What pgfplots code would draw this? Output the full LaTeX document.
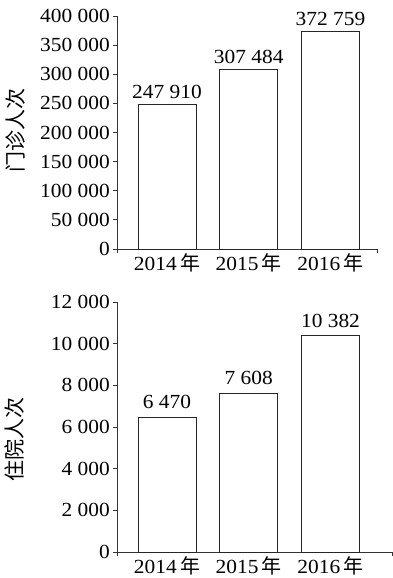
\documentclass[border=0pt]{standalone}
\usepackage{pgfplots}
\pgfplotsset{compat=1.18}
\usepackage{fontspec}
\setmainfont[FakeStretch=1.07]{Liberation Serif}
\newfontfamily\cjk{Noto Sans CJK SC}
\pgfplotsset{
  mystyle/.style={
    scale only axis,
    anchor=south west,
    axis x line*=bottom,
    axis y line*=left,
    x axis line style={-, line width=0.8pt, black!80},
    y axis line style={-, line width=0.8pt, black!80},
    every tick/.style={line width=0.8pt, black!80},
    tick align=outside,
    major tick length=4pt,
    ytick pos=left,
    xtick pos=bottom,
    scaled y ticks=false,
    xticklabels={},
    extra x ticks={0,1,2},
    extra x tick labels={2014\,{\cjk 年},2015\,{\cjk 年},2016\,{\cjk 年}},
    extra x tick style={major tick length=0pt, tick style={draw=none}},
    xmin=-0.612,
    tick label style={font=\fontsize{20}{24}\selectfont},
    yticklabel style={inner sep=0pt, xshift=-3pt},
    xticklabel style={inner sep=0pt, yshift=-4pt},
    ybar,
    bar width=58pt,
    point meta=explicit symbolic,
    nodes near coords,
    every node near coord/.style={font=\fontsize{20}{24}\selectfont, anchor=south, inner sep=0pt, yshift=6pt, black},
    every axis y label/.style={rotate=90, anchor=center, font=\cjk\fontsize{21}{24}\selectfont},
  }
}
\begin{document}
\begin{tikzpicture}
\useasboundingbox (0,0) rectangle (393pt,-578pt);
\begin{axis}[mystyle,
  at={(117pt,-249pt)}, width=260pt, height=233pt,
  xmax=2.569,
  xtick={-0.612,2.569},
  ymin=0, ymax=400000,
  ytick={0,50000,100000,150000,200000,250000,300000,350000,400000},
  yticklabels={0,50 000,100 000,150 000,200 000,250 000,300 000,350 000,400 000},
  ylabel={门诊人次},
  ylabel style={at={(rel axis cs:-0.392,0.51)}},
]
\addplot[draw=black!85, fill=white, line width=0.8pt] coordinates {
  (0,247910) [247 910]
  (1,307484) [307 484]
  (2,372759) [372 759]
};
\end{axis}
\begin{axis}[mystyle,
  at={(117pt,-552pt)}, width=275pt, height=250pt,
  xmax=2.752,
  xtick={-0.612,2.752},
  ymin=0, ymax=12000,
  ytick={0,2000,4000,6000,8000,10000,12000},
  yticklabels={0,2 000,4 000,6 000,8 000,10 000,12 000},
  ylabel={住院人次},
  ylabel style={at={(rel axis cs:-0.371,0.452)}},
  every node near coord/.append style={yshift=2pt},
]
\addplot[draw=black!85, fill=white, line width=0.8pt] coordinates {
  (0,6470) [6 470]
  (1,7608) [7 608]
  (2,10382) [10 382]
};
\end{axis}
\end{tikzpicture}
\end{document}
